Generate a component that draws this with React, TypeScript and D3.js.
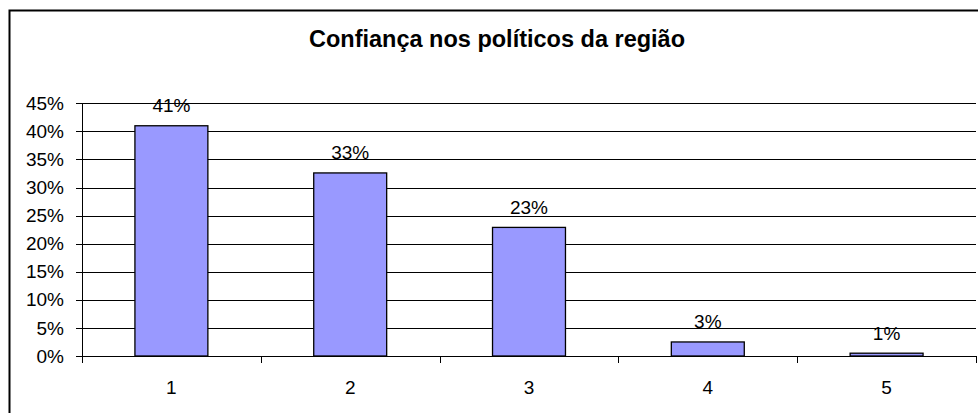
import React from "react";
import * as d3 from "d3";

const categories = ["1", "2", "3", "4", "5"];
const values = [41, 32.6, 22.9, 2.5, 0.5];
const valueLabels = ["41%", "33%", "23%", "3%", "1%"];
const yTicks = [0, 5, 10, 15, 20, 25, 30, 35, 40, 45];
const title = "Confiança nos políticos da região";

export default function App() {
  const W = 978;
  const H = 413;
  const left = 82;
  const right = 976;
  const top = 103.3;
  const bottom = 356;

  const x = d3.scaleBand<string>().domain(categories).range([left, right]).padding(0);
  const y = d3.scaleLinear().domain([0, 45]).range([bottom, top]);
  const barW = x.bandwidth() * 0.408;
  const font = "Arial, 'Liberation Sans', sans-serif";

  return (
    <svg
      width={W}
      height={H}
      style={{ position: "absolute", left: 0, top: 0, background: "#fff" }}
      fontFamily={font}
    >
      <rect x={9.5} y={10.5} width={1000} height={1000} fill="#fff" stroke="#000" strokeWidth={2} />
      <text x={497} y={46.5} textAnchor="middle" fontSize={23.5} fontWeight="bold" fill="#000">
        {title}
      </text>
      {yTicks.map((t) => (
        <g key={t}>
          {t > 0 && (
            <line x1={left} x2={right} y1={Math.round(y(t)) + 0.5} y2={Math.round(y(t)) + 0.5} stroke="#000" strokeWidth={1} />
          )}
          <line x1={left - 6} x2={left} y1={Math.round(y(t)) + 0.5} y2={Math.round(y(t)) + 0.5} stroke="#000" strokeWidth={1} />
          <text x={64} y={y(t)} dy="0.35em" textAnchor="end" fontSize={19} fill="#000">
            {t}%
          </text>
        </g>
      ))}
      {categories.map((c, i) => {
        const cx = (x(c) as number) + x.bandwidth() / 2;
        const bx = cx - barW / 2;
        const by = y(values[i]);
        return (
          <g key={c}>
            <rect x={bx} y={by} width={barW} height={bottom - by} fill="#9999FF" stroke="#000" strokeWidth={1.3} />
            <text x={cx} y={by - 13.5} textAnchor="middle" fontSize={19} fill="#000">
              {valueLabels[i]}
            </text>
            <text x={cx} y={393.5} textAnchor="middle" fontSize={19} fill="#000">
              {c}
            </text>
          </g>
        );
      })}
      <line x1={left + 0.5} x2={left + 0.5} y1={top} y2={bottom + 6} stroke="#000" strokeWidth={1} />
      <line x1={left} x2={right} y1={bottom + 0.5} y2={bottom + 0.5} stroke="#000" strokeWidth={1.2} />
      {d3.range(categories.length + 1).map((i) => {
        const tx = i < categories.length ? (x(categories[i]) as number) : right;
        return <line key={i} x1={Math.round(tx) + 0.5} x2={Math.round(tx) + 0.5} y1={bottom} y2={bottom + 7} stroke="#000" strokeWidth={1} />;
      })}
    </svg>
  );
}
